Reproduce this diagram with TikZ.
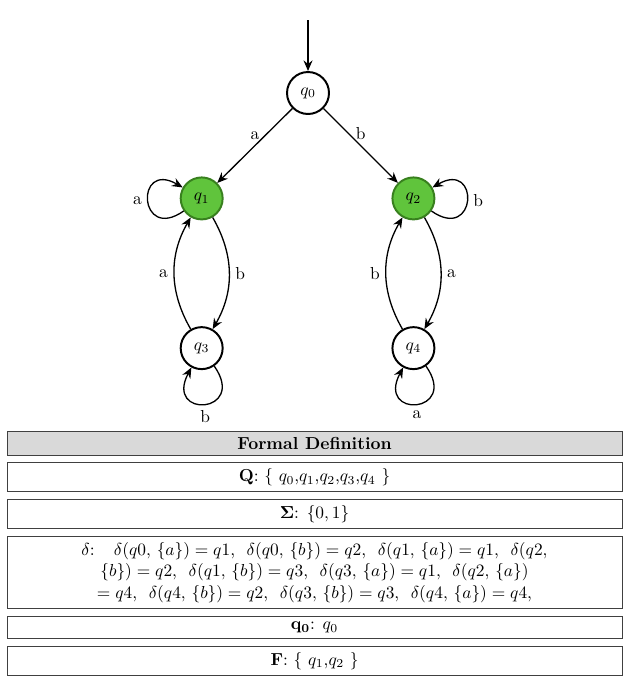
\RequirePackage{fix-cm}
\documentclass[tikz,border=0pt]{standalone}
\usepackage{amsmath}
\usepackage{amssymb}
\usepackage{tikz}
\usetikzlibrary{arrows.meta,positioning}
\definecolor{accfill}{RGB}{96,196,60}
\definecolor{accdraw}{RGB}{56,128,30}
\tikzset{
	>={Stealth[length=6.5pt,width=5.5pt,inset=2.2pt]},
	st/.style={draw,circle,very thick,minimum size=0.9cm,inner sep=0pt},
	acc/.style={st,fill=accfill,draw=accdraw},
	tr/.style={->,thick},
	box/.style={draw=black!75,rectangle,align=center,minimum width=13.19cm},
	head/.style={box,fill=black!15,font=\bfseries}
}

\begin{document}
\fontsize{10.6pt}{13pt}\selectfont
\begin{tikzpicture}
	\useasboundingbox (-6.604,-12.714) rectangle (6.904,1.994);
	\node[st] (q0) at (0,0) {$q_0$};
	\node[acc] (q1) at (-2.28,-2.26) {$q_1$};
	\node[acc] (q2) at (2.26,-2.26) {$q_2$};
	\node[st] (q3) at (-2.28,-5.47) {$q_3$};
	\node[st] (q4) at (2.26,-5.47) {$q_4$};
	\node[coordinate] (init) at (0,1.565) {};
	\draw[tr] (init) -- (q0);
	\draw[tr] (q0) -- node[above] {a} (q1);
	\draw[tr] (q0) -- node[above] {b} (q2);
	\draw[tr] (q1) to[loop,out=215,in=150,looseness=6] node[left] {a} (q1);
	\draw[tr] (q2) to[loop,out=-35,in=30,looseness=6] node[right] {b} (q2);
	\draw[tr] (q1) to[bend left=30] node[auto] {b} (q3);
	\draw[tr] (q3) to[bend left=30] node[auto] {a} (q1);
	\draw[tr] (q2) to[bend left=30] node[auto] {a} (q4);
	\draw[tr] (q4) to[bend left=30] node[auto] {b} (q2);
	\draw[tr] (q3) to[loop,out=-55,in=-118,looseness=6.5] node[below] {b} (q3);
	\draw[tr] (q4) to[loop,out=-55,in=-118,looseness=6.5] node[below] {a} (q4);

	% formal definition
	\node[head] (fd) at (0.139,-7.504) {Formal Definition};
	\node[box,below=0.15cm of fd] (Q) {\textbf{Q}: \{ $q_0$,$q_1$,$q_2$,$q_3$,$q_4$ \}};
	\node[box,below=0.16cm of Q] (sig) {$\boldsymbol{\Sigma}$: $\{0,1\}$};
	\node[box,below=0.16cm of sig] (del) {$\delta$:~~ $\delta(q0,$ $\{a\})=q1$,~ $\delta(q0,$ $\{b\})=q2$,~ $\delta(q1,$ $\{a\})=q1$,~ $\delta(q2,$\\
		$\{b\})=q2$,~ $\delta(q1,$ $\{b\})=q3$,~ $\delta(q3,$ $\{a\})=q1$,~ $\delta(q2,$ $\{a\})$\\
		$=q4$,~ $\delta(q4,$ $\{b\})=q2$,~ $\delta(q3,$ $\{b\})=q3$,~ $\delta(q4,$ $\{a\})=q4$,};
	\node[box,below=0.15cm of del] (init0) {$\mathbf{q_0}$: $q_0$};
	\node[box,below=0.15cm of init0] (F) {\textbf{F}: \{ $q_1$,$q_2$ \}};
\end{tikzpicture}
\end{document}
